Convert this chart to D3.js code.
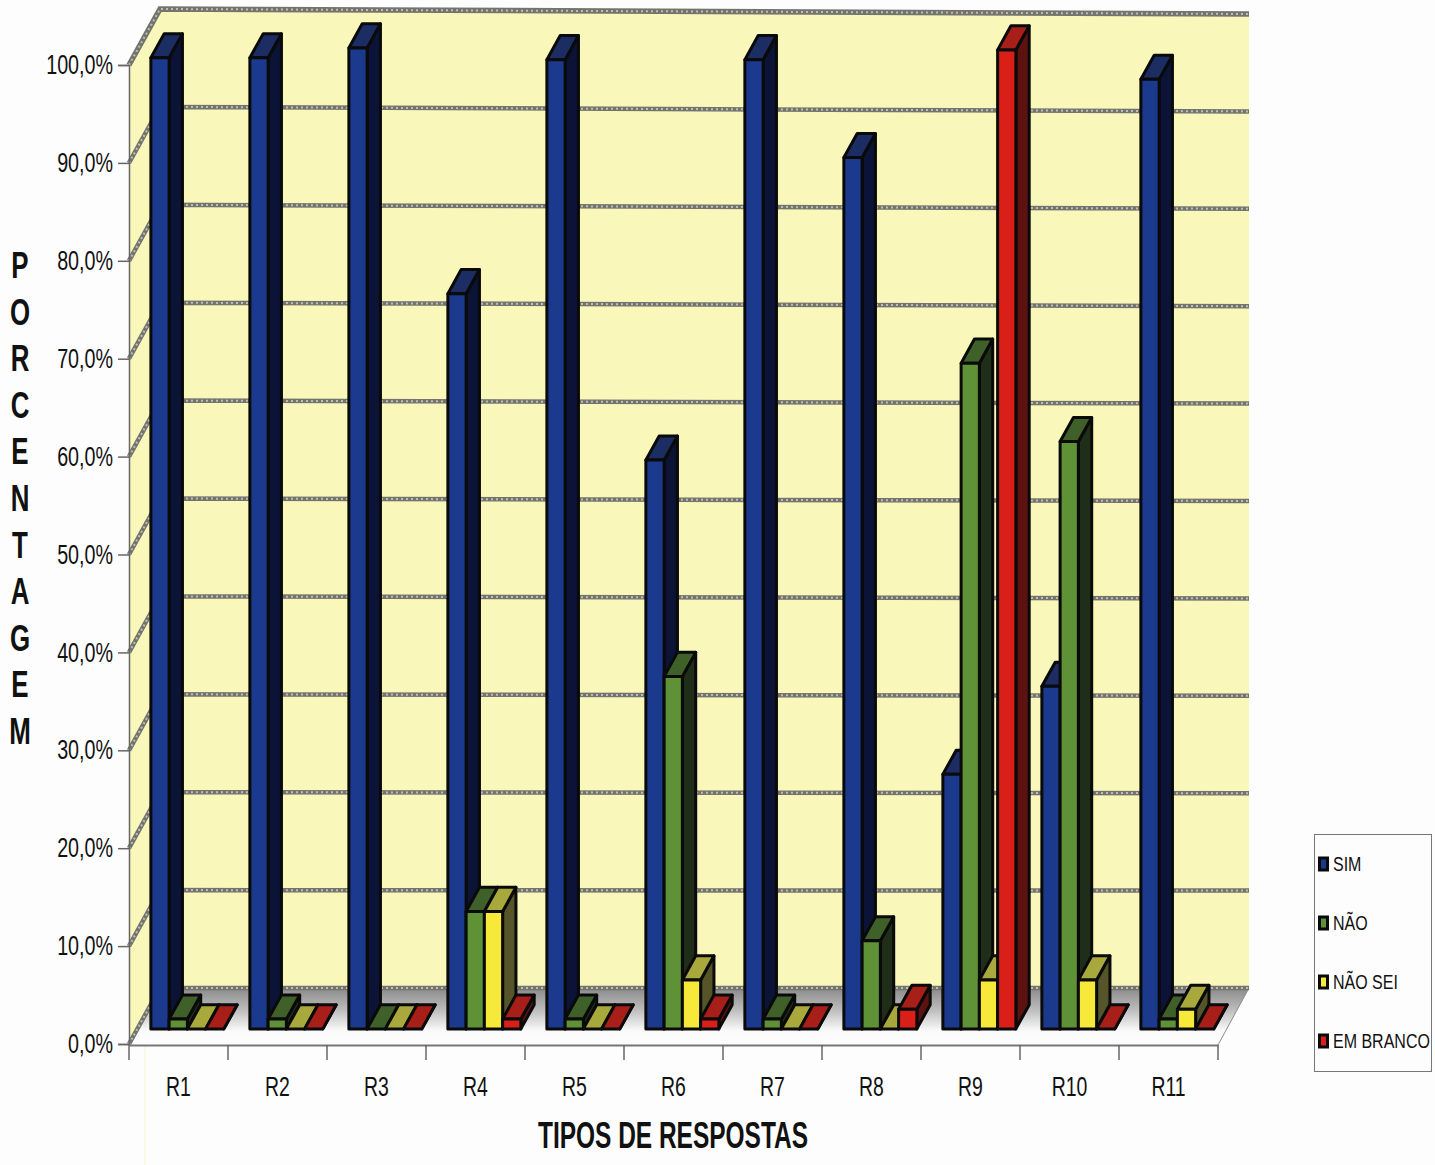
<!DOCTYPE html>
<html>
<head>
<meta charset="utf-8">
<script src="https://cdn.jsdelivr.net/npm/d3@7"></script>
<style>
  html, body { margin: 0; padding: 0; background: #fcfdfc; }
  svg { display: block; }
  text { font-family: "Liberation Sans", sans-serif; fill: #111; }
</style>
</head>
<body>
<div id="chart"></div>
<script>
// data
const categories = ["R1", "R2", "R3", "R4", "R5", "R6", "R7", "R8", "R9", "R10", "R11"];
const seriesNames = ["SIM", "NÃO", "NÃO SEI", "EM BRANCO"];
const sim = [99.2, 99.2, 100.2, 75.1, 99, 58.1, 99, 89, 26, 35, 97];
const nao = [1, 1, 0, 12, 1, 36, 1, 9, 68, 60, 1];
const naoSei = [0, 0, 0, 12, 0, 5, 0, 0, 5, 5, 2];
const emBranco = [0, 0, 0, 1, 0, 1, 0, 2, 100, 0, 0];
const seriesValues = [sim, nao, naoSei, emBranco];
const yTicks = [0, 10, 20, 30, 40, 50, 60, 70, 80, 90, 100];
const yTitle = "PORCENTAGEM".split("");

// front, top, side colours of each series
const colors = [
    {front: "#1b3a8e", top: "#1c2d63", side: "#0b1436"},
    {front: "#5f9136", top: "#40602a", side: "#1f2e18"},
    {front: "#f7e93a", top: "#a9a83c", side: "#56552a"},
    {front: "#da1f18", top: "#a81e18", side: "#5c1210"}
];

const width = 1435, height = 1165;
const margin = {top: 65, left: 129, bottom: 121, right: 217};

// the box goes back and up from the front axes
const depthX = 31, depthY = 56;
const frontDepth = 0.27, backDepth = 0.7;

const svg = d3.select("#chart")
    .append("svg")
    .attr("width", width)
    .attr("height", height);

const defs = svg.append("defs");
const floorGrad = defs.append("linearGradient")
    .attr("id", "floorGrad")
    .attr("x1", 0).attr("y1", 0).attr("x2", 0).attr("y2", 1);
floorGrad.append("stop").attr("offset", "0%").attr("stop-color", "#8a8a8a");
floorGrad.append("stop").attr("offset", "38%").attr("stop-color", "#bcbcbc");
floorGrad.append("stop").attr("offset", "75%").attr("stop-color", "#fafafa");
floorGrad.append("stop").attr("offset", "100%").attr("stop-color", "#fcfdfc");

const x0 = d3.scaleBand()
    .domain(categories)
    .range([margin.left, width - margin.right]);
const x1 = d3.scaleBand()
    .domain(seriesNames)
    .range([13.5, 86.5]);
const y = d3.scaleLinear()
    .domain([0, 100])
    .range([height - margin.bottom, margin.top]);

const left = x0.range()[0], right = x0.range()[1];
const poly = pts => pts.map(p => p.join(",")).join(" ");
// the scan leans a little, top gridlines end lower on the right
const gridLean = v => v / 100 * 5;

// no narrow font installed, so squeeze the text sideways
function squeeze(sel, k) {
    sel.each(function() {
        const t = d3.select(this);
        const px = +t.attr("x") || 0;
        t.attr("x", px / k).attr("transform", `scale(${k},1)`);
    });
}

// walls
const wall = svg.append("g");
wall.append("polygon")
    .attr("fill", "#f9f7b9")
    .attr("points", poly([
        [left, y(100)], [left + depthX, y(100) - depthY],
        [right + depthX, y(100) - depthY + 5], [right + depthX, y(0) - depthY],
        [left, y(0)]
    ]));
wall.append("polygon")
    .attr("fill", "url(#floorGrad)")
    .attr("points", poly([
        [left, y(0)], [left + depthX, y(0) - depthY],
        [right + depthX, y(0) - depthY], [right, y(0) + 1]
    ]));
wall.append("line")
    .attr("x1", right + depthX).attr("y1", y(0) - depthY)
    .attr("x2", right).attr("y2", y(0) + 1)
    .attr("stroke", "#8a8a8a")
    .attr("stroke-width", 1);

// gridlines, gray band with a lighter broken line on top
const gridPath = v => d3.line()([
    [left, y(v)],
    [left + depthX, y(v) - depthY],
    [right + depthX, y(v) - depthY + gridLean(v)]
]);
const grid = svg.append("g").attr("fill", "none");
grid.selectAll(".band")
    .data(yTicks)
    .join("path")
    .attr("d", gridPath)
    .attr("stroke", "#74746e")
    .attr("stroke-width", d => d == 100 ? 5.5 : 4.5);
grid.selectAll(".dash")
    .data(yTicks)
    .join("path")
    .attr("d", gridPath)
    .attr("stroke", "#bdbdb5")
    .attr("stroke-width", 2)
    .attr("stroke-dasharray", "2 3");

// faint scan line down the page
svg.append("line")
    .attr("x1", 145).attr("y1", 1045)
    .attr("x2", 145).attr("y2", height)
    .attr("stroke", "#f7f7c8")
    .attr("stroke-width", 1);

// bars, left to right so each front covers the side of the one before
const groups = svg.selectAll(".group")
    .data(categories)
    .join("g")
    .attr("class", "group");

groups.each(function(cat, i) {
    const g = d3.select(this);
    seriesNames.forEach(function(name, s) {
        const v = seriesValues[s][i];
        const xa = x0(cat) + x1(name);
        const xb = xa + x1.bandwidth();
        const fx = frontDepth * depthX, fy = frontDepth * depthY;
        const bx = backDepth * depthX, by = backDepth * depthY;
        const bar = g.append("g")
            .attr("stroke", "#0a0a0a")
            .attr("stroke-width", 3)
            .attr("stroke-linejoin", "round");
        bar.append("polygon")
            .attr("fill", colors[s].side)
            .attr("points", poly([
                [xb + fx, y(0) - fy], [xb + bx, y(0) - by],
                [xb + bx, y(v) - by], [xb + fx, y(v) - fy]
            ]));
        bar.append("polygon")
            .attr("fill", colors[s].top)
            .attr("points", poly([
                [xa + fx, y(v) - fy], [xa + bx, y(v) - by],
                [xb + bx, y(v) - by], [xb + fx, y(v) - fy]
            ]));
        bar.append("rect")
            .attr("x", xa + fx)
            .attr("y", y(v) - fy)
            .attr("width", x1.bandwidth())
            .attr("height", y(0) - y(v))
            .attr("fill", colors[s].front);
    });
});

// axes
const yAxis = svg.append("g")
    .attr("transform", `translate(${left},0)`)
    .call(d3.axisLeft(y)
        .tickValues(yTicks)
        .tickSize(11)
        .tickPadding(5)
        .tickFormat(d => d.toFixed(1).replace(".", ",") + "%"));
yAxis.selectAll("text").style("font-size", "27px").call(squeeze, 0.73);
yAxis.selectAll("line").attr("stroke", "#666").attr("stroke-width", 1.5);
yAxis.select(".domain").attr("stroke", "#666").attr("stroke-width", 1.5);

const xAxis = svg.append("g")
    .attr("transform", `translate(0,${y(0) + 1})`)
    .call(d3.axisBottom(x0).tickSize(0).tickPadding(32));
xAxis.selectAll("text").style("font-size", "27px").call(squeeze, 0.72);
xAxis.select(".domain").attr("stroke", "#777").attr("stroke-width", 2);

// x ticks sit on the band edges
svg.append("g").selectAll("line")
    .data(categories.concat("end"))
    .join("line")
    .attr("x1", d => d == "end" ? right : x0(d))
    .attr("x2", d => d == "end" ? right : x0(d))
    .attr("y1", y(0) + 1)
    .attr("y2", y(0) + 16)
    .attr("stroke", "#666")
    .attr("stroke-width", 1.5);

// titles
svg.append("text")
    .attr("x", 673)
    .attr("y", 1148)
    .attr("text-anchor", "middle")
    .style("font-size", "36px")
    .style("font-weight", "bold")
    .text("TIPOS DE RESPOSTAS")
    .call(squeeze, 0.68);

svg.append("g").selectAll("text")
    .data(yTitle)
    .join("text")
    .attr("x", 20)
    .attr("y", (d, i) => 278 + i * 46.6)
    .attr("text-anchor", "middle")
    .style("font-size", "37px")
    .style("font-weight", "bold")
    .text(d => d)
    .call(squeeze, 0.7);

// legend
svg.append("rect")
    .attr("x", 1314.5).attr("y", 834.5)
    .attr("width", 117).attr("height", 237)
    .attr("fill", "#fdfdfd")
    .attr("stroke", "#777");

const legend = svg.selectAll(".legend")
    .data(seriesNames)
    .join("g")
    .attr("class", "legend")
    .attr("transform", (d, i) => `translate(1319.5,${864 + i * 59})`);
legend.append("rect")
    .attr("x", 0).attr("y", -6)
    .attr("width", 8).attr("height", 12)
    .attr("fill", (d, i) => colors[i].front)
    .attr("stroke", "#0a0a0a")
    .attr("stroke-width", 3);
legend.append("text")
    .attr("x", 13.5)
    .attr("y", 7)
    .style("font-size", "20px")
    .text(d => d)
    .call(squeeze, 0.8);
</script>
</body>
</html>
